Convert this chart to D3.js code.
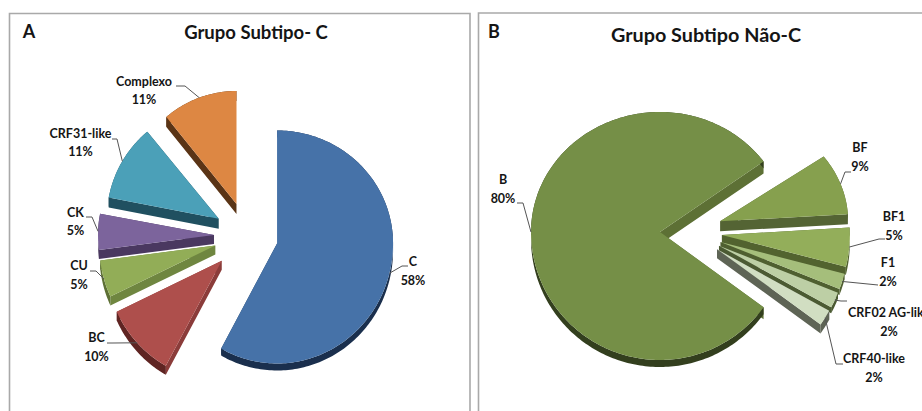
<!DOCTYPE html>
<html>
<head>
<meta charset="utf-8">
<script src="https://cdn.jsdelivr.net/npm/d3@7/dist/d3.min.js"></script>
<style>
html,body{margin:0;padding:0;background:#fff;overflow:hidden}
svg{display:block}
text{font-family:Lato,"Open Sans",sans-serif;font-weight:700;fill:#151515}
</style>
</head>
<body>
<svg id="chart" width="922" height="411"></svg>
<script>
// Subtype shares, panel A
const categoriesA = ["C", "BC", "CU", "CK", "CRF31-like", "Complexo"];
const valuesA = [58, 10, 5, 5, 11, 11];
const topColorsA = ["#4672a8", "#ae4f4c", "#92ad57", "#7c649c", "#4ba0b8", "#dd8743"];
const wallColorsA = ["#24405f", "#8b3c3a", "#6f8640", "#4a3860", "#205060", "#5a3416"];
const rimColorsA = ["#1a2f4d", "#5f2422", "#5d7035", "#3f2f52", "#205060", "#5a3416"];

// Subtype shares, panel B
const categoriesB = ["B", "BF", "BF1", "F1", "CRF02 AG-like", "CRF40-like"];
const valuesB = [80, 9, 5, 2, 2, 2];
const topColorsB = ["#758f47", "#86a04e", "#93ae5a", "#a5be7b", "#bdcfa5", "#d1dec2"];
const wallColorsB = ["#5d7035", "#546434", "#52632f", "#4f5f30", "#4b5a32", "#5e6455"];
const rimColorsB = ["#333f1e", "#546434", "#52632f", "#4f5f30", "#4b5a32", "#5e6455"];

// Layout of each pie: centre, per-slice radii of the tilted disc, pull-out, wall and rim heights
const panelA = {
  letter: "A", title: "Grupo Subtipo- C", titleSize: 18.5,
  letterX: 29, letterY: 38, titleX: 256, titleY: 39,
  frame: [9.5, 13.5, 470, 411],
  cx: 248, cy: 236, rxR: 116, ryB: 120, start: 0,
  rxL: [116, 116, 116, 116, 112, 110],
  ryT: [113, 113, 113, 113, 113, 113],
  pull: [30, 36, 34, 34, 34, 34],
  wall: [7, 9, 9, 9, 10, 10],
  rim: [7, 9, 9, 9, 10, 10]
};
const panelB = {
  letter: "B", title: "Grupo Subtipo Não-C", titleSize: 19.8,
  letterX: 494, letterY: 38, titleX: 706, titleY: 42,
  frame: [478.5, 13, 930, 411],
  cx: 690, cy: 232, rxR: 128, ryB: 128, start: 126,
  rxL: [129, 129, 129, 129, 129, 129],
  ryT: [120, 110, 120, 120, 120, 120],
  pull: [30, 32, 32, 32, 32, 32],
  wall: [12, 10, 8, 6, 6, 9],
  rim: [7, 10, 8, 6, 6, 9]
};

// Label centres, first-line baseline, and leader elbow / end points
const labelsA = [
  {x: 413, y: 266, elbow: [402, 266], end: [408, 266]},
  {x: 96.5, y: 342, elbow: [113, 343], end: [107, 343]},
  {x: 79, y: 270, elbow: [96, 271], end: [90, 271]},
  {x: 75.5, y: 216.5, elbow: [92, 217], end: [86, 217]},
  {x: 80.5, y: 137.5, elbow: [117, 139], end: [112, 139]},
  {x: 144, y: 85.5, elbow: [185, 86], end: [176, 86]}
];
const labelsB = [
  {x: 503, y: 184, elbow: [523, 203], end: [517, 203]},
  {x: 860, y: 152, elbow: [845, 172], end: [851, 172]},
  {x: 894, y: 221, elbow: [879, 239], end: [885, 239]},
  {x: 888, y: 267, elbow: [860, 285], end: [878, 285]},
  {x: 889, y: 317, elbow: [841, 301], end: [847, 301]},
  {x: 874, y: 363, elbow: [836, 364], end: [843, 364]}
];

const svg = d3.select("#chart");
const toRad = d3.scaleLinear().domain([0, 360]).range([0, 2 * Math.PI]);

function drawPanel(cfg, categories, values, topColors, wallColors, rimColors, labels) {
  const g = svg.append("g");

  // Open-bottomed frame around the panel
  const [x0, y0, x1, y1] = cfg.frame;
  g.append("path")
    .attr("d", d3.line()([[x0, y1], [x0, y0], [x1, y0], [x1, y1]]))
    .attr("fill", "none").attr("stroke", "#a9a9a9").attr("stroke-width", 1.6);

  g.append("text").attr("x", cfg.letterX).attr("y", cfg.letterY)
    .attr("text-anchor", "middle").attr("font-size", 18).text(cfg.letter);
  g.append("text").attr("x", cfg.titleX).attr("y", cfg.titleY)
    .attr("text-anchor", "middle").attr("font-size", cfg.titleSize).text(cfg.title);

  const startAngle = toRad(cfg.start);
  const arcs = d3.pie().value(d => d).sort(null)
    .startAngle(startAngle).endAngle(startAngle + 2 * Math.PI)(values);

  // Maps a polar position on the tilted disc to the page
  const project = (a, i, ox, oy) => {
    const s = Math.sin(a), c = Math.cos(a);
    return [ox + s * (s < 0 ? cfg.rxL[i] : cfg.rxR), oy - c * (c > 0 ? cfg.ryT[i] : cfg.ryB)];
  };

  const slices = arcs.map((arc, i) => {
    const mid = (arc.startAngle + arc.endAngle) / 2;
    const ox = cfg.cx + cfg.pull[i] * Math.sin(mid);
    const oy = cfg.cy - cfg.pull[i] * Math.cos(mid);
    const steps = Math.max(2, Math.ceil((arc.endAngle - arc.startAngle) / 0.02));
    const rim = d3.range(steps + 1).map(k =>
      project(arc.startAngle + (arc.endAngle - arc.startAngle) * k / steps, i, ox, oy));
    return {i, mid, ox, oy, rim, apex: [ox, oy]};
  });

  // A quad swept straight down from one edge, wound consistently so overlaps stay filled
  const sweep = (a, b, d) => {
    const quad = [a, b, [b[0], b[1] + d], [a[0], a[1] + d]];
    return d3.polygonArea(quad) < 0 ? quad.slice().reverse() : quad;
  };
  const pathOf = quads => quads.map(q => d3.line()(q) + "Z").join("");

  const order = slices.slice().sort((p, q) => p.oy - q.oy);
  order.forEach(s => {
    const first = s.rim[0], last = s.rim[s.rim.length - 1];
    g.append("path")
      .attr("d", pathOf([sweep(s.apex, first, cfg.wall[s.i]), sweep(s.apex, last, cfg.wall[s.i])]))
      .attr("fill", wallColors[s.i]);
    g.append("path")
      .attr("d", pathOf(d3.pairs(s.rim).map(([a, b]) => sweep(a, b, cfg.rim[s.i]))))
      .attr("fill", rimColors[s.i]);
    g.append("path").attr("d", d3.line()([s.apex, ...s.rim]) + "Z")
      .attr("fill", topColors[s.i]);
  });

  // Leaders run from the slice rim through an elbow to the label
  slices.forEach(s => {
    const lab = labels[s.i];
    const start = project(s.mid, s.i, s.ox, s.oy);
    const pts = s.i === 3 && cfg.letter === "B" ? [start, lab.end] : [start, lab.elbow, lab.end];
    g.append("path").attr("d", d3.line()(pts))
      .attr("fill", "none").attr("stroke", "#555").attr("stroke-width", 1);
    g.append("text").attr("x", lab.x).attr("y", lab.y)
      .attr("text-anchor", "middle").attr("font-size", 12.5).text(categories[s.i]);
    g.append("text").attr("x", lab.x).attr("y", lab.y + 18.5)
      .attr("text-anchor", "middle").attr("font-size", 12.5).text(values[s.i] + "%");
  });
}

drawPanel(panelA, categoriesA, valuesA, topColorsA, wallColorsA, rimColorsA, labelsA);
drawPanel(panelB, categoriesB, valuesB, topColorsB, wallColorsB, rimColorsB, labelsB);
</script>
</body>
</html>
